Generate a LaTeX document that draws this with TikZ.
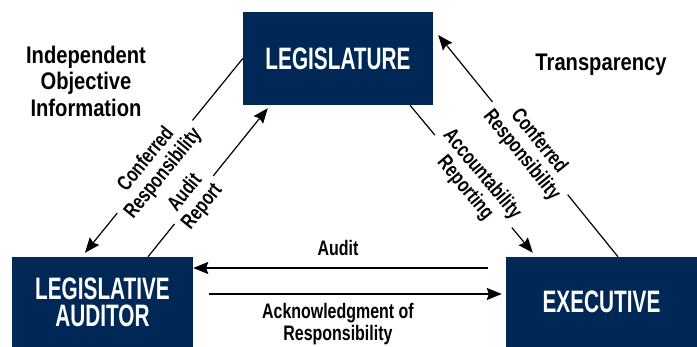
\documentclass[tikz,border=0pt]{standalone}
\usepackage{fontspec}
\setmainfont{Liberation Sans}[FakeStretch=0.76]
\newfontfamily\headfont{Liberation Sans}[FakeStretch=0.84]
\newfontfamily\boxfont{Liberation Sans}[FakeStretch=0.67]
\usetikzlibrary{arrows.meta}

\definecolor{navy}{RGB}{0,40,86}

\tikzset{
  branch/.style={fill=navy, text=white, inner sep=0pt, align=center,
    font=\boxfont\bfseries\fontsize{31}{27}\selectfont},
  flow/.style={line width=1.2pt, -{Stealth[length=15pt,width=12pt,inset=2pt]}},
  note/.style={align=center, font=\bfseries\fontsize{21}{22}\selectfont},
  tag/.style={note, sloped, fill=white, inner xsep=5pt, inner ysep=1pt},
  head/.style={align=center, font=\headfont\bfseries\fontsize{24}{26.5}\selectfont},
}

\begin{document}
\begin{tikzpicture}[x=1pt,y=1pt]
    \useasboundingbox (0,0) rectangle (697,-347);

    % the three branches
    \node[branch, minimum width=190, minimum height=93] (leg) at (338,-58.5) {LEGISLATURE};
    \node[branch, minimum width=181, minimum height=90] (aud) at (102.5,-302) {LEGISLATIVE\\AUDITOR};
    \node[branch, minimum width=191, minimum height=90] (exe) at (601.5,-302) {EXECUTIVE};

    % side notes
    \node[head] (info) at (86,-81) {Independent\\Objective\\Information};
    \node[head] (transp) at (601,-65) {Transparency};

    % legislature <-> auditor
    \draw[flow] (leg.west) -- node[tag, pos=0.557] {Conferred\\Responsibility} ([xshift=-17.5pt,yshift=4pt]aud.north);
    \draw[flow] ([xshift=45.5pt]aud.north) -- node[tag, pos=0.383] {Audit\\Report} ([xshift=25pt,yshift=-3pt]leg.south west);

    % legislature <-> executive
    \draw[flow] ([xshift=16.5pt]exe.north) -- node[tag, pos=0.489] {Conferred\\Responsibility} ([xshift=5pt,yshift=23.5pt]leg.east);
    \draw[flow] ([xshift=72pt]leg.south) -- node[tag, pos=0.516] {Accountability\\Reporting} ([xshift=27pt,yshift=4pt]exe.north west);

    % auditor <-> executive
    \draw[flow, shorten <=18pt] ([yshift=34pt]exe.west) -- node[note, above=8pt, pos=0.537] {Audit} ([yshift=34pt]aud.east);
    \draw[flow, shorten <=16pt] ([yshift=8pt]aud.east) -- node[note, below=5pt, pos=0.469] {Acknowledgment of\\Responsibility} ([xshift=-4pt,yshift=8pt]exe.west);
\end{tikzpicture}
\end{document}
